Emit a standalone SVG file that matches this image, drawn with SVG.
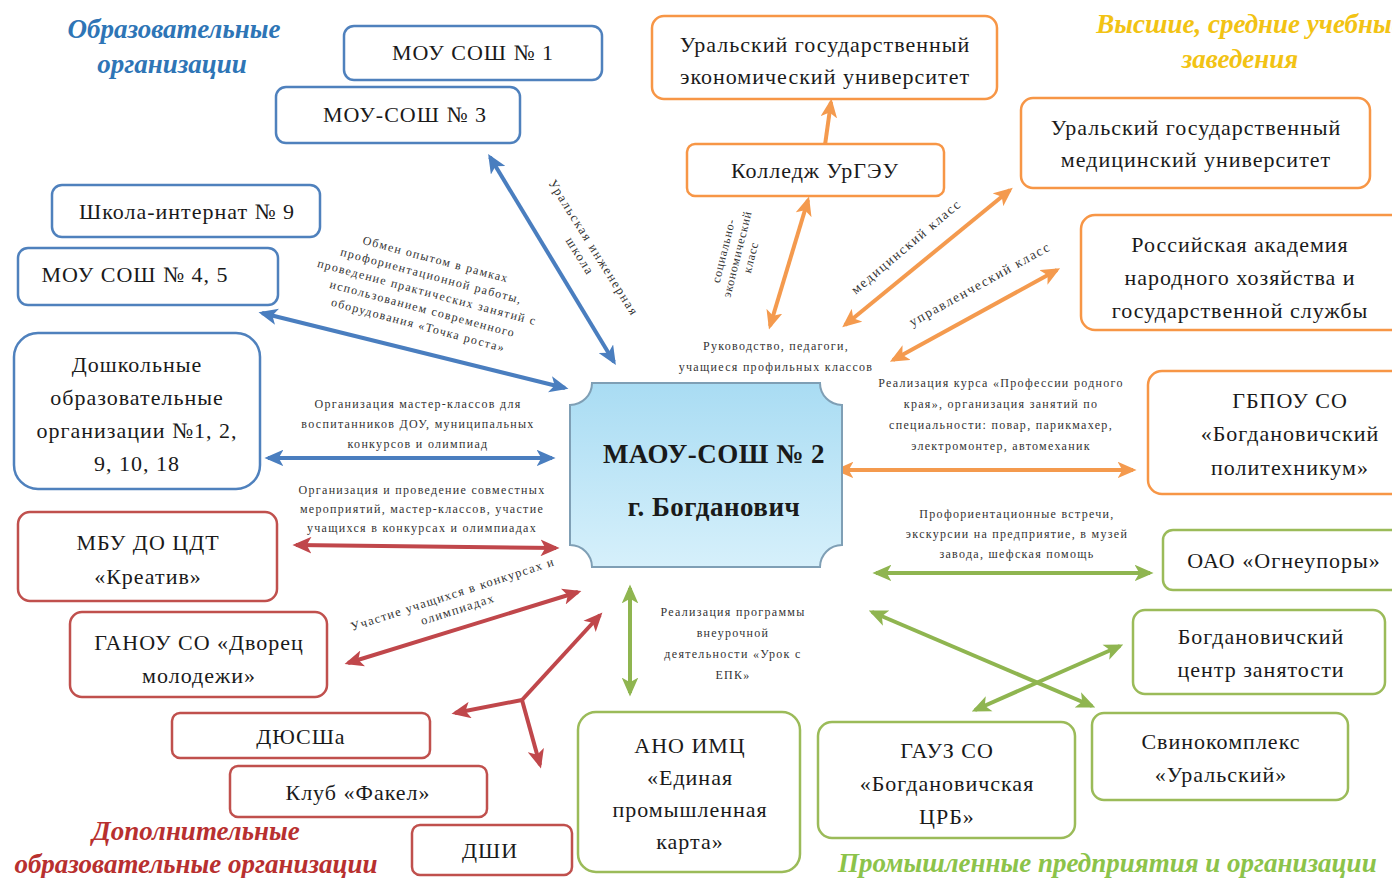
<svg xmlns="http://www.w3.org/2000/svg" width="1392" height="878" viewBox="0 0 1392 878">
<defs>
<linearGradient id="cg" x1="0" y1="0" x2="0" y2="1">
<stop offset="0" stop-color="#a9dcf3"/>
<stop offset="1" stop-color="#d6f0fb"/>
</linearGradient>
<marker id="mb" viewBox="0 0 16 14" refX="13" refY="7" markerWidth="19" markerHeight="17" markerUnits="userSpaceOnUse" orient="auto-start-reverse"><path d="M0,0 L16,7 L0,14 L4,7 Z" fill="#4a7ebf"/></marker>
<marker id="mr" viewBox="0 0 16 14" refX="13" refY="7" markerWidth="19" markerHeight="17" markerUnits="userSpaceOnUse" orient="auto-start-reverse"><path d="M0,0 L16,7 L0,14 L4,7 Z" fill="#c0474b"/></marker>
<marker id="mo" viewBox="0 0 16 14" refX="13" refY="7" markerWidth="19" markerHeight="17" markerUnits="userSpaceOnUse" orient="auto-start-reverse"><path d="M0,0 L16,7 L0,14 L4,7 Z" fill="#f49a4e"/></marker>
<marker id="mg" viewBox="0 0 16 14" refX="13" refY="7" markerWidth="19" markerHeight="17" markerUnits="userSpaceOnUse" orient="auto-start-reverse"><path d="M0,0 L16,7 L0,14 L4,7 Z" fill="#8fb550"/></marker>
</defs>
<style>
.n{fill:#fff;stroke-width:2.5}
.b{stroke:#4f81bd}.o{stroke:#f79646}.r{stroke:#c0504d}.g{stroke:#9bbb59}
.t{font-family:"Liberation Serif",serif;font-size:22px;letter-spacing:1px;fill:#1a1a1a;text-anchor:middle}
.s{font-family:"Liberation Serif",serif;font-size:12px;letter-spacing:1.3px;fill:#333;text-anchor:middle}
.h{font-family:"Liberation Serif",serif;font-size:27px;font-weight:bold;font-style:italic;text-anchor:middle}
.cb{stroke:#4a7ebf}.cr{stroke:#c0474b}.co{stroke:#f49a4e}.cg{stroke:#8fb550}
.c line{stroke-width:4;fill:none}
</style>
<rect width="1392" height="878" fill="#fff"/>

<g id="headings">
<text class="h" x="174" y="38" fill="#2e75b6">Образовательные</text>
<text class="h" x="172" y="73" fill="#2e75b6">организации</text>
<text class="h" x="1250" y="33" fill="#f2c314">Высшие, средние учебные</text>
<text class="h" x="1240" y="68" fill="#f2c314">заведения</text>
<text class="h" x="196" y="840" fill="#b8302f">Дополнительные</text>
<text class="h" x="196" y="873" fill="#b8302f">образовательные организации</text>
<text class="h" x="838" y="872" fill="#8cc34a" style="text-anchor:start">Промышленные предприятия и организации</text>
</g>

<g id="connectors" class="c">
<line class="cb" x1="490" y1="157" x2="614" y2="362" marker-start="url(#mb)" marker-end="url(#mb)"/>
<line class="cb" x1="262" y1="313" x2="565" y2="388" marker-start="url(#mb)" marker-end="url(#mb)"/>
<line class="cb" x1="268" y1="458" x2="552" y2="458" marker-start="url(#mb)" marker-end="url(#mb)"/>
<line class="cr" x1="296" y1="545" x2="556" y2="548" marker-start="url(#mr)" marker-end="url(#mr)"/>
<line class="cr" x1="348" y1="663" x2="578" y2="592" marker-start="url(#mr)" marker-end="url(#mr)"/>
<line class="cr" x1="522" y1="700" x2="600" y2="615" marker-end="url(#mr)"/>
<line class="cr" x1="522" y1="700" x2="455" y2="713" marker-end="url(#mr)"/>
<line class="cr" x1="522" y1="700" x2="540" y2="765" marker-end="url(#mr)"/>
<line class="co" x1="825" y1="145" x2="831" y2="102" marker-end="url(#mo)"/>
<line class="co" x1="770" y1="326" x2="808" y2="200" marker-start="url(#mo)" marker-end="url(#mo)"/>
<line class="co" x1="845" y1="325" x2="1010" y2="190" marker-start="url(#mo)" marker-end="url(#mo)"/>
<line class="co" x1="893" y1="360" x2="1057" y2="270" marker-start="url(#mo)" marker-end="url(#mo)"/>
<line class="co" x1="838" y1="470" x2="1133" y2="470" marker-start="url(#mo)" marker-end="url(#mo)"/>
<line class="cg" x1="630" y1="588" x2="630" y2="693" marker-start="url(#mg)" marker-end="url(#mg)"/>
<line class="cg" x1="876" y1="573" x2="1150" y2="573" marker-start="url(#mg)" marker-end="url(#mg)"/>
<line class="cg" x1="872" y1="612" x2="1092" y2="706" marker-start="url(#mg)" marker-end="url(#mg)"/>
<line class="cg" x1="975" y1="710" x2="1120" y2="646" marker-start="url(#mg)" marker-end="url(#mg)"/>
</g>

<g id="connector-labels">
<text class="s" transform="translate(590,250) rotate(58)" style="font-size:13px;letter-spacing:1.6px"><tspan x="0" y="0">Уральская инженерная</tspan><tspan x="0" y="16">школа</tspan></text>
<text class="s" transform="translate(426,296) rotate(15)"><tspan x="0" y="-34">Обмен опытом в рамках</tspan><tspan x="0" y="-17">профориентационной работы,</tspan><tspan x="0" y="0">проведение практических занятий с</tspan><tspan x="0" y="17">использованием современного</tspan><tspan x="0" y="34">оборудования «Точка роста»</tspan></text>
<text class="s"><tspan x="418" y="408">Организация мастер-классов для</tspan><tspan x="418" y="428">воспитанников ДОУ, муниципальных</tspan><tspan x="418" y="448">конкурсов и олимпиад</tspan></text>
<text class="s"><tspan x="422" y="494">Организация и проведение совместных</tspan><tspan x="422" y="513">мероприятий,  мастер-классов, участие</tspan><tspan x="422" y="532">учащихся в конкурсах и олимпиадах</tspan></text>
<text class="s" transform="translate(454,598) rotate(-18)" style="font-size:12.5px"><tspan x="0" y="0">Участие учащихся в конкурсах и</tspan><tspan x="0" y="16">олимпиадах</tspan></text>
<text class="s" transform="translate(741,255) rotate(-76)" style="letter-spacing:0.8px"><tspan x="0" y="-14">социально-</tspan><tspan x="0" y="0">экономический</tspan><tspan x="0" y="14">класс</tspan></text>
<text class="s" transform="translate(909,250) rotate(-40)" style="font-size:13.5px;letter-spacing:1.6px">медицинский класс</text>
<text class="s" transform="translate(982,288) rotate(-29)" style="font-size:13.5px;letter-spacing:1.6px">управленческий класс</text>
<text class="s"><tspan x="776" y="350">Руководство, педагоги,</tspan><tspan x="776" y="371">учащиеся профильных классов</tspan></text>
<text class="s"><tspan x="1001" y="387">Реализация курса «Профессии родного</tspan><tspan x="1001" y="408">края», организация занятий по</tspan><tspan x="1001" y="429">специальности: повар, парикмахер,</tspan><tspan x="1001" y="450">электромонтер, автомеханик</tspan></text>
<text class="s"><tspan x="1017" y="518">Профориентационные встречи,</tspan><tspan x="1017" y="538">экскурсии на предприятие, в музей</tspan><tspan x="1017" y="558">завода, шефская помощь</tspan></text>
<text class="s"><tspan x="733" y="616">Реализация программы</tspan><tspan x="733" y="637">внеурочной</tspan><tspan x="733" y="658">деятельности «Урок с</tspan><tspan x="733" y="679">ЕПК»</tspan></text>
</g>

<g id="center">
<path d="M592 383 H820 A22 22 0 0 0 842 405 V545 A22 22 0 0 0 820 567 H592 A22 22 0 0 0 570 545 V405 A22 22 0 0 0 592 383 Z" fill="url(#cg)" stroke="#7f9fb5" stroke-width="2"/>
<text class="t" x="714" y="463" style="font-size:27px;font-weight:bold;letter-spacing:0.5px">МАОУ-СОШ № 2</text>
<text class="t" x="714" y="516" style="font-size:27px;font-weight:bold;letter-spacing:0.5px">г. Богданович</text>
</g>

<g id="n-sosh1"><rect class="n b" x="344" y="26" width="258" height="54" rx="10"/><text class="t" x="473" y="60">МОУ СОШ № 1</text></g>
<g id="n-sosh3"><rect class="n b" x="276" y="87" width="244" height="56" rx="10"/><text class="t" x="405" y="122">МОУ-СОШ № 3</text></g>
<g id="n-internat"><rect class="n b" x="52" y="185" width="268" height="52" rx="10"/><text class="t" x="187" y="219">Школа-интернат № 9</text></g>
<g id="n-sosh45"><rect class="n b" x="18" y="248" width="260" height="57" rx="10"/><text class="t" x="135" y="282">МОУ СОШ № 4, 5</text></g>
<g id="n-dou"><rect class="n b" x="14" y="333" width="246" height="156" rx="24"/><text class="t"><tspan x="137" y="372">Дошкольные</tspan><tspan x="137" y="405">образовательные</tspan><tspan x="137" y="438">организации №1, 2,</tspan><tspan x="137" y="471">9, 10, 18</tspan></text></g>

<g id="n-kreativ"><rect class="n r" x="18" y="512" width="259" height="89" rx="12"/><text class="t"><tspan x="148" y="550">МБУ ДО ЦДТ</tspan><tspan x="148" y="584">«Креатив»</tspan></text></g>
<g id="n-dvorec"><rect class="n r" x="70" y="612" width="257" height="85" rx="12"/><text class="t"><tspan x="199" y="650">ГАНОУ СО «Дворец</tspan><tspan x="199" y="683">молодежи»</tspan></text></g>
<g id="n-dyussh"><rect class="n r" x="172" y="713" width="258" height="45" rx="8"/><text class="t" x="301" y="744">ДЮСШа</text></g>
<g id="n-fakel"><rect class="n r" x="230" y="766" width="257" height="51" rx="8"/><text class="t" x="358" y="800">Клуб «Факел»</text></g>
<g id="n-dshi"><rect class="n r" x="412" y="825" width="160" height="50" rx="8"/><text class="t" x="490" y="858">ДШИ</text></g>

<g id="n-urgeu"><rect class="n o" x="652" y="16" width="345" height="83" rx="12"/><text class="t"><tspan x="825" y="52">Уральский государственный</tspan><tspan x="825" y="84">экономический университет</tspan></text></g>
<g id="n-college"><rect class="n o" x="687" y="144" width="257" height="52" rx="8"/><text class="t" x="815" y="178">Колледж УрГЭУ</text></g>
<g id="n-ugmu"><rect class="n o" x="1021" y="98" width="349" height="90" rx="12"/><text class="t"><tspan x="1196" y="135">Уральский государственный</tspan><tspan x="1196" y="167">медицинский университет</tspan></text></g>
<g id="n-ranepa"><rect class="n o" x="1081" y="215" width="330" height="115" rx="14"/><text class="t"><tspan x="1240" y="252">Российская академия</tspan><tspan x="1240" y="285">народного хозяйства и</tspan><tspan x="1240" y="318">государственной службы</tspan></text></g>
<g id="n-politeh"><rect class="n o" x="1148" y="371" width="260" height="123" rx="14"/><text class="t"><tspan x="1290" y="408">ГБПОУ СО</tspan><tspan x="1290" y="441">«Богдановичский</tspan><tspan x="1290" y="475">политехникум»</tspan></text></g>

<g id="n-ogneupory"><rect class="n g" x="1163" y="530" width="240" height="60" rx="10"/><text class="t" x="1284" y="568">ОАО «Огнеупоры»</text></g>
<g id="n-czn"><rect class="n g" x="1133" y="610" width="252" height="84" rx="12"/><text class="t"><tspan x="1261" y="644">Богдановичский</tspan><tspan x="1261" y="677">центр занятости</tspan></text></g>
<g id="n-svino"><rect class="n g" x="1092" y="713" width="256" height="87" rx="12"/><text class="t"><tspan x="1221" y="749">Свинокомплекс</tspan><tspan x="1221" y="782">«Уральский»</tspan></text></g>
<g id="n-crb"><rect class="n g" x="818" y="722" width="257" height="116" rx="14"/><text class="t"><tspan x="947" y="758">ГАУЗ СО</tspan><tspan x="947" y="791">«Богдановичская</tspan><tspan x="947" y="824">ЦРБ»</tspan></text></g>
<g id="n-epk"><rect class="n g" x="578" y="712" width="222" height="160" rx="18"/><text class="t"><tspan x="690" y="753">АНО ИМЦ</tspan><tspan x="690" y="785">«Единая</tspan><tspan x="690" y="817">промышленная</tspan><tspan x="690" y="849">карта»</tspan></text></g>
</svg>
